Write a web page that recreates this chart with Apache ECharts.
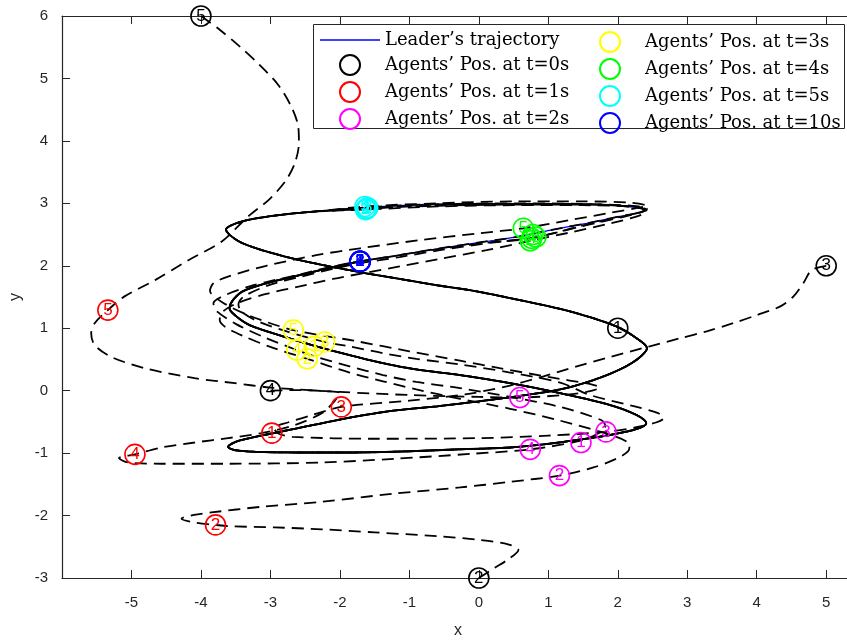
<!DOCTYPE html>
<html>
<head>
<meta charset="utf-8">
<script src="https://cdn.jsdelivr.net/npm/echarts@6/dist/echarts.min.js"></script>
<style>
html, body { margin: 0; padding: 0; background: #fff; }
#chartArea { width: 847px; height: 643px; }
</style>
</head>
<body>
<div id="chartArea"></div>
<script>
// leader path, one full lap, starting at its t=0 position
var leaderLap = [
    [1.98, 1.03], [2.27, 0.84], [2.42, 0.68],
    [2.30, 0.52], [2.05, 0.35], [1.65, 0.17], [1.17, 0.02], [0.55, -0.09], [0.0, -0.17], [-0.6, -0.25],
    [-1.23, -0.32], [-1.8, -0.42], [-2.25, -0.52], [-2.65, -0.61], [-3.0, -0.69], [-3.3, -0.76], [-3.5, -0.82], [-3.61, -0.90],
    [-3.52, -0.95], [-3.2, -0.98], [-2.6, -0.99], [-1.8, -0.99], [-1.0, -0.97], [-0.3, -0.94], [0.45, -0.91], [0.93, -0.86],
    [1.41, -0.79], [1.89, -0.71], [2.22, -0.63], [2.37, -0.57], [2.41, -0.52],
    [2.27, -0.39], [1.89, -0.23], [1.17, -0.04], [0.45, 0.12], [-0.27, 0.25], [-0.9, 0.34], [-1.38, 0.44], [-1.86, 0.57],
    [-2.34, 0.71], [-2.82, 0.87], [-3.30, 1.05], [-3.49, 1.19], [-3.59, 1.32],
    [-3.54, 1.45], [-3.40, 1.59], [-3.06, 1.72], [-2.58, 1.85], [-2.10, 1.98], [-1.71, 2.07], [-1.14, 2.17], [-0.56, 2.28],
    [0.11, 2.39], [0.59, 2.47], [1.07, 2.58], [1.55, 2.68], [2.03, 2.79], [2.30, 2.85], [2.40, 2.90],
    [2.22, 2.94], [1.79, 2.98], [1.07, 2.99], [0.11, 2.99], [-0.85, 2.98], [-1.67, 2.93], [-2.34, 2.87], [-2.82, 2.82],
    [-3.30, 2.74], [-3.54, 2.66], [-3.64, 2.58],
    [-3.56, 2.47], [-3.40, 2.36], [-3.06, 2.23], [-2.58, 2.09], [-2.10, 1.98], [-1.62, 1.88], [-1.14, 1.79], [-0.56, 1.68],
    [-0.13, 1.61], [0.59, 1.45], [1.31, 1.27], [1.98, 1.03]
];

// agents 2..5 before they merge with the leader (agent 1 starts on it)
var agent2Path = [
    [0, -3], [0.21, -2.85], [0.45, -2.68], [0.57, -2.55], [0.42, -2.46], [0.01, -2.39], [-0.6, -2.33], [-1.5, -2.27],
    [-2.26, -2.22], [-2.94, -2.19], [-3.61, -2.17], [-3.79, -2.15], [-4.10, -2.11], [-4.28, -2.05], [-4.10, -1.99],
    [-3.85, -1.95], [-3.13, -1.86], [-2.26, -1.78], [-1.23, -1.65], [-0.27, -1.55], [0.45, -1.46], [1.16, -1.36],
    [1.65, -1.23], [1.98, -1.09], [2.15, -0.97], [2.17, -0.87], [1.98, -0.74], [1.17, -0.48], [0.45, -0.29],
    [-0.27, -0.13], [-0.9, 0.02], [-1.38, 0.15], [-1.86, 0.29], [-2.47, 0.51], [-3.0, 0.70], [-3.4, 0.88],
    [-3.65, 1.02], [-3.73, 1.13], [-3.68, 1.27], [-3.48, 1.40], [-3.06, 1.55], [-2.58, 1.67], [-2.10, 1.79],
    [-1.62, 1.89], [-1.14, 1.99], [-0.56, 2.11], [0.11, 2.25], [0.74, 2.40], [1.3, 2.53], [1.9, 2.68], [2.30, 2.80],
    [2.42, 2.87], [2.25, 2.94], [1.5, 2.97], [0.5, 2.97], [-0.6, 2.95], [-1.63, 2.90]
];
var agent3Path = [
    [5, 2], [4.79, 1.93], [4.67, 1.72], [4.53, 1.51], [4.34, 1.35], [4.0, 1.21], [3.66, 1.08], [3.28, 0.95],
    [2.90, 0.84], [2.46, 0.71], [1.89, 0.54], [1.41, 0.39], [0.93, 0.23], [0.4, 0.07], [-0.2, -0.06], [-1.0, -0.16],
    [-1.98, -0.26], [-2.4, -0.39], [-2.75, -0.51], [-2.95, -0.60], [-2.88, -0.69], [-2.68, -0.74], [-1.5, -0.77],
    [0.01, -0.76], [1.0, -0.72], [1.83, -0.66], [2.25, -0.59], [2.55, -0.51], [2.66, -0.44], [2.58, -0.36],
    [2.2, -0.24], [1.6, -0.07], [1.17, 0.13], [0.45, 0.29], [-0.27, 0.42], [-0.9, 0.51], [-1.38, 0.60], [-1.86, 0.71],
    [-2.22, 0.78], [-2.8, 0.96], [-3.2, 1.12], [-3.42, 1.27], [-3.46, 1.38], [-3.38, 1.51], [-3.02, 1.69],
    [-2.58, 1.82], [-2.10, 1.95], [-1.71, 2.04], [-1.14, 2.14], [-0.56, 2.25], [0.11, 2.36], [0.82, 2.46],
    [1.55, 2.65], [2.03, 2.77], [2.32, 2.85], [2.41, 2.90], [2.22, 2.95], [1.5, 2.98], [0.5, 2.98], [-0.6, 2.96], [-1.60, 2.93]
];
var agent4Path = [
    [-3, 0], [-2.6, 0.01], [-2.2, -0.01], [-2.0, -0.04], [-2.08, -0.17], [-2.26, -0.36], [-2.65, -0.55], [-3.13, -0.68],
    [-3.61, -0.76], [-4.09, -0.83], [-4.57, -0.91], [-4.95, -1.02], [-5.18, -1.08], [-5.05, -1.15], [-4.57, -1.17],
    [-3.61, -1.17], [-2.26, -1.15], [-1.2, -1.09], [-0.09, -1.01], [0.74, -0.94], [1.47, -0.80], [1.74, -0.67],
    [1.82, -0.56], [1.76, -0.47], [1.17, -0.26], [0.45, -0.10], [-0.27, 0.04], [-0.9, 0.14], [-1.38, 0.25],
    [-1.86, 0.39], [-2.34, 0.54], [-2.62, 0.65], [-3.1, 0.86], [-3.5, 1.07], [-3.78, 1.28], [-3.82, 1.40],
    [-3.65, 1.53], [-3.3, 1.67], [-3.06, 1.74], [-2.58, 1.86], [-2.10, 1.99], [-1.71, 2.07], [-1.14, 2.17],
    [-0.56, 2.27], [0.11, 2.37], [0.76, 2.44], [1.55, 2.66], [2.03, 2.78], [2.33, 2.86], [2.42, 2.91], [2.22, 2.96],
    [1.5, 2.99], [0.5, 3.0], [-0.6, 2.98], [-1.62, 2.91]
];
var agent5Path = [
    [-4, 6], [-3.73, 5.78], [-3.44, 5.51], [-3.16, 5.22], [-2.89, 4.90], [-2.70, 4.55], [-2.60, 4.23], [-2.59, 3.96],
    [-2.65, 3.64], [-2.77, 3.38], [-3.0, 3.08], [-3.32, 2.79], [-3.70, 2.39], [-4.18, 2.09], [-4.66, 1.77],
    [-5.10, 1.51], [-5.34, 1.29], [-5.53, 1.08], [-5.58, 0.92], [-5.53, 0.73], [-5.29, 0.54], [-4.81, 0.36],
    [-4.09, 0.20], [-3.51, 0.12], [-3.0, 0.05], [-2.0, -0.02], [-1.0, -0.07], [0.01, -0.10], [0.59, -0.11],
    [1.2, -0.07], [1.55, -0.02], [1.74, 0.05], [1.62, 0.10], [1.0, 0.22], [0.3, 0.36], [-0.27, 0.48], [-1.0, 0.63],
    [-1.8, 0.80], [-2.67, 0.97], [-3.3, 1.2], [-3.7, 1.42], [-3.87, 1.60], [-3.82, 1.72], [-3.6, 1.83],
    [-3.06, 2.0], [-2.34, 2.17], [-1.71, 2.28], [-0.85, 2.41], [0, 2.52], [0.64, 2.60], [1.3, 2.73], [1.9, 2.85],
    [2.25, 2.92], [2.42, 2.96], [2.2, 3.01], [1.5, 3.03], [0.5, 3.03], [-0.6, 3.0], [-1.64, 2.95]
];

// agents' positions (agent 1..5) at the sampled times
var posT0 = [[2, 1], [0, -3], [5, 2], [-3, 0], [-4, 6]];
var posT1 = [[-2.98, -0.68], [-3.79, -2.15], [-1.98, -0.26], [-4.95, -1.02], [-5.34, 1.29]];
var posT2 = [[1.47, -0.83], [1.16, -1.36], [1.83, -0.66], [0.74, -0.94], [0.59, -0.11]];
var posT3 = [[-2.37, 0.71], [-2.47, 0.51], [-2.22, 0.78], [-2.62, 0.65], [-2.67, 0.97]];
var posT4 = [[0.78, 2.50], [0.74, 2.40], [0.82, 2.46], [0.76, 2.44], [0.64, 2.60]];
var posT5 = [[-1.61, 2.92], [-1.63, 2.90], [-1.60, 2.93], [-1.62, 2.91], [-1.64, 2.95]];
var posT10 = [[-1.71, 2.07], [-1.71, 2.07], [-1.71, 2.07], [-1.71, 2.07], [-1.71, 2.07]];

var timeLabels = ['0', '1', '2', '3', '4', '5', '10'];
var timeColors = ['#000000', '#ff0000', '#ff00ff', '#ffff00', '#00ff00', '#00ffff', '#0000ff'];
var xTicks = [-5, -4, -3, -2, -1, 0, 1, 2, 3, 4, 5];

var leaderName = 'Leader\u2019s trajectory';

function findPoint(path, p) {
    for (var i = 0; i < path.length; i++) {
        if (path[i][0] == p[0] && path[i][1] == p[1]) return i;
    }
    return -1;
}

// leader goes round once and then on to where it is at t=10
var endIdx = findPoint(leaderLap, posT10[0]);
var leaderPath = leaderLap.concat(leaderLap.slice(1, endIdx + 1));
// after t=5 every agent rides on the leader's path
var tailStart = findPoint(leaderLap, [-2.34, 2.87]);
var agentTail = leaderLap.slice(tailStart).concat(leaderLap.slice(1, endIdx + 1));

var agentPaths = [leaderPath, agent2Path.concat(agentTail), agent3Path.concat(agentTail),
    agent4Path.concat(agentTail), agent5Path.concat(agentTail)];
var posAll = [posT0, posT1, posT2, posT3, posT4, posT5, posT10];

var chartDom = document.getElementById('chartArea');
var myChart = echarts.init(chartDom);
var option;

var series = [];
series.push({
    name: leaderName,
    type: 'line',
    data: leaderPath,
    showSymbol: false,
    symbol: 'none',
    smooth: 0.3,
    lineStyle: { color: '#0000ff', width: 1.2 },
    itemStyle: { color: '#0000ff' },
    z: 2
});
for (var a = 0; a < agentPaths.length; a++) {
    series.push({
        name: 'agent' + (a + 1),
        type: 'line',
        data: agentPaths[a],
        showSymbol: false,
        symbol: 'none',
        smooth: 0.3,
        lineStyle: { color: '#000', width: 1.8, type: [12, 7] },
        z: 3
    });
}
var col1 = [{ name: leaderName, icon: 'path://M0,0L60,0L60,1.4L0,1.4Z' }];
var col2 = [];
for (var k = 0; k < posAll.length; k++) {
    var nm = 'Agents\u2019 Pos. at t=' + timeLabels[k] + 's';
    if (k < 3) col1.push(nm); else col2.push(nm);
    series.push({
        name: nm,
        type: 'scatter',
        data: posAll[k],
        symbol: 'circle',
        symbolSize: 20,
        clip: false,
        itemStyle: { color: 'rgba(255,255,255,0)', borderColor: timeColors[k], borderWidth: 1.6, opacity: 1 },
        label: {
            show: true,
            position: 'inside',
            formatter: function (p) { return String(p.dataIndex + 1); },
            color: timeColors[k],
            fontFamily: 'Liberation Sans',
            fontSize: 17
        },
        z: 5
    });
}

var axisColor = '#262626';
var legendBase = {
    top: 31,
    orient: 'vertical',
    itemWidth: 60,
    itemHeight: 20,
    itemGap: 5,
    padding: 0,
    selectedMode: false,
    textStyle: { fontFamily: 'DejaVu Serif', fontSize: 18, color: '#000' },
    z: 10
};
option = {
    animation: false,
    backgroundColor: '#fff',
    grid: { left: 62, top: 16, right: -7, bottom: 65, outerBoundsMode: 'none' },
    graphic: [{
        type: 'rect',
        z: 9,
        shape: { x: 313.5, y: 24.5, width: 531, height: 104 },
        style: { fill: '#fff', stroke: axisColor, lineWidth: 1 }
    }],
    legend: [
        Object.assign({ data: col1, left: 320 }, legendBase),
        Object.assign({ data: col2, left: 599 }, legendBase)
    ],
    xAxis: [{
        type: 'value',
        min: -6,
        max: 5.4,
        interval: 1,
        name: 'x',
        nameLocation: 'middle',
        nameGap: 45,
        nameTextStyle: { fontFamily: 'Liberation Sans', fontSize: 16, color: axisColor },
        axisLine: { onZero: false, lineStyle: { color: axisColor, width: 1.2 } },
        axisTick: { inside: true, length: 8, lineStyle: { color: axisColor } },
        axisLabel: {
            margin: 17,
            fontFamily: 'Liberation Sans',
            fontSize: 15,
            color: axisColor,
            showMaxLabel: false,
            formatter: function (v) { return xTicks.indexOf(v) >= 0 ? String(v) : ''; }
        },
        splitLine: { show: false }
    }, {
        type: 'value',
        position: 'top',
        min: -6,
        max: 5.4,
        interval: 1,
        axisLine: { onZero: false, lineStyle: { color: axisColor, width: 1.2 } },
        axisTick: { inside: true, length: 8, lineStyle: { color: axisColor } },
        axisLabel: { show: false },
        splitLine: { show: false }
    }],
    yAxis: {
        type: 'value',
        min: -3,
        max: 6,
        interval: 1,
        name: 'y',
        nameLocation: 'middle',
        nameGap: 36,
        nameTextStyle: { fontFamily: 'Liberation Sans', fontSize: 16, color: axisColor },
        axisLine: { onZero: false, lineStyle: { color: axisColor, width: 1.2 } },
        axisTick: { inside: true, length: 8, lineStyle: { color: axisColor } },
        axisLabel: { margin: 14, fontFamily: 'Liberation Sans', fontSize: 15, color: axisColor },
        splitLine: { show: false }
    },
    series: series
};

option && myChart.setOption(option);
</script>
</body>
</html>
